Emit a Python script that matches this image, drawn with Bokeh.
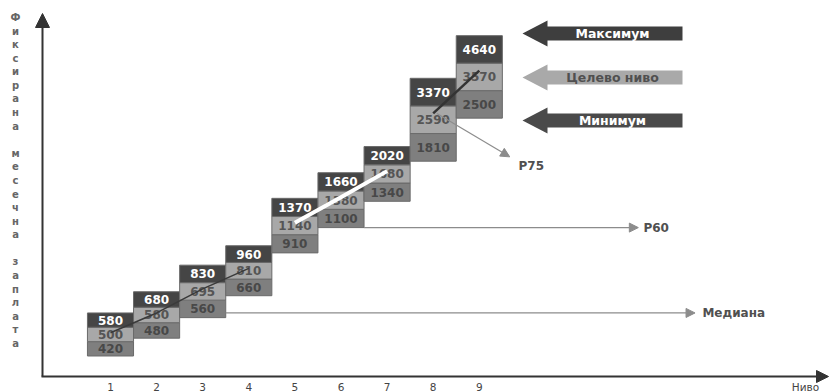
import math
from bokeh.plotting import figure
from bokeh.models import Range1d, Arrow, NormalHead, LinearScale
from bokeh.core.properties import value
from bokeh.embed import file_html
from bokeh.resources import INLINE

# ---- data ----
levels = [1, 2, 3, 4, 5, 6, 7, 8, 9]
minimum = [420, 480, 560, 660, 910, 1100, 1340, 1810, 2500]
target = [500, 580, 695, 810, 1140, 1380, 1680, 2590, 3570]
maximum = [580, 680, 830, 960, 1370, 1660, 2020, 3370, 4640]
tick_labels = ["1", "2", "3", "4", "5", "6", "7", "8", "9"]
legend_labels = ["Максимум", "Целево ниво", "Минимум"]
y_title = "Фиксирана месечна заплата"
x_title = "Ниво"
median_value = 580
p60_value = 1100
p75_value = 2590
percentile_labels = ["Медиана", "P60", "P75"]

FONT = value("DejaVu Sans")
DARK = "#454545"
MID = "#7f7f7f"
LIGHT = "#a8a8a8"

p = figure(width=831, height=392, output_backend="svg", toolbar_location=None,
           x_range=Range1d(-1.386, 16.640), y_range=Range1d(319.4, 6040),
           y_axis_type="log", x_axis_location=None, y_axis_location=None,
           min_border=0, outline_line_color=None)
p.grid.visible = False
p.extra_x_ranges = {"px": Range1d(0, 831)}
p.extra_y_ranges = {"px": Range1d(392, 0)}
p.extra_x_scales = {"px": LinearScale()}
p.extra_y_scales = {"px": LinearScale()}

# ---- boxes (three bands, equal log thirds) ----
L, R, B, T, C = [], [], [], [], []
tx, ty, tt, tc = [], [], [], []
band_colors = [MID, LIGHT, DARK]
text_colors = ["#484848", "#555555", "#ffffff"]
for lv, lo, tg, hi in zip(levels, minimum, target, maximum):
    r = hi / lo
    edges = [lo * r ** (k / 3) for k in range(4)]
    vals = [lo, tg, hi]
    for k in range(3):
        L.append(lv - 0.5); R.append(lv + 0.5)
        B.append(edges[k]); T.append(edges[k + 1]); C.append(band_colors[k])
        tx.append(lv); ty.append(lo * r ** ((2 * k + 1) / 6))
        tt.append(str(vals[k])); tc.append(text_colors[k])

p.quad(left=L, right=R, bottom=B, top=T, fill_color=C, line_color="#6a6a6a", line_width=1)
p.text(x=tx, y=ty, text=tt, text_color=tc, text_font=FONT, text_font_style="bold",
       text_font_size="12px", text_align="center", text_baseline="middle")

# ---- target trend line ----
p.line(levels[0:4], target[0:4], line_color="#3a3a3a", line_width=1.5)
p.line(levels[4:7], target[4:7], line_color="#ffffff", line_width=4)
p.line(levels[7:9], target[7:9], line_color="#333333", line_width=2.5)

# ---- percentile arrows ----
GR = "#8c8c8c"
def garrow(x0, y0, x1, y1):
    p.add_layout(Arrow(x_start=x0, y_start=y0, x_end=x1, y_end=y1,
                       line_color=GR, line_width=1.2,
                       end=NormalHead(size=9, fill_color=GR, line_color=GR)))
garrow(3.5, median_value, 13.68, median_value)
garrow(6.5, p60_value, 12.45, p60_value)
garrow(8.08, p75_value, 9.66, 1870)
p.text(x=[13.84, 12.56, 9.85], y=[median_value, p60_value, 1752], text=percentile_labels,
       text_color="#505050", text_font=FONT, text_font_style="bold", text_font_size="12px",
       text_align="left", text_baseline="middle")

# ---- legend block arrows (pixel coordinates) ----
leg_y = [33, 77, 120]
leg_fill = ["#3e3e3e", "#a9a9a9", "#4a4a4a"]
leg_text = ["#ffffff", "#505050", "#ffffff"]
xs, ys = [], []
for cy in leg_y:
    xs.append([522, 547, 547, 682, 682, 547, 547])
    ys.append([cy, cy - 13, cy - 7, cy - 7, cy + 7, cy + 7, cy + 13])
p.patches(xs, ys, fill_color=leg_fill, line_color=None, x_range_name="px", y_range_name="px")
p.text(x=[612, 612, 612], y=leg_y, text=legend_labels, text_color=leg_text, text_font=FONT,
       text_font_style="bold", text_font_size="12.5px", text_align="center",
       text_baseline="middle", x_range_name="px", y_range_name="px")

# ---- axes ----
AX = "#333333"
p.add_layout(Arrow(x_start=42, y_start=376, x_end=42, y_end=13, line_color=AX, line_width=2,
                   x_range_name="px", y_range_name="px",
                   end=NormalHead(size=14, fill_color=AX, line_color=AX)))
p.add_layout(Arrow(x_start=41, y_start=376, x_end=828, y_end=376, line_color=AX, line_width=2,
                   x_range_name="px", y_range_name="px",
                   end=NormalHead(size=12, fill_color=AX, line_color=AX)))

p.text(x=levels, y=[386] * len(levels), text=tick_labels, text_color="#444444", text_font=FONT,
       text_font_size="10.5px", text_align="center", text_baseline="middle", y_range_name="px")
p.text(x=[805], y=[386], text=[x_title], text_color="#444444", text_font=FONT,
       text_font_size="10.5px", text_align="center", text_baseline="middle",
       x_range_name="px", y_range_name="px")

lx, ly, lt = [], [], []
for i, ch in enumerate(y_title):
    if ch.strip():
        lx.append(15); ly.append(17 + i * 13.58); lt.append(ch)
p.text(x=lx, y=ly, text=lt, text_color="#666666", text_font=FONT, text_font_style="bold",
       text_font_size="10px", text_align="center", text_baseline="middle",
       x_range_name="px", y_range_name="px")

open("out.html", "w").write(file_html(p, INLINE))
